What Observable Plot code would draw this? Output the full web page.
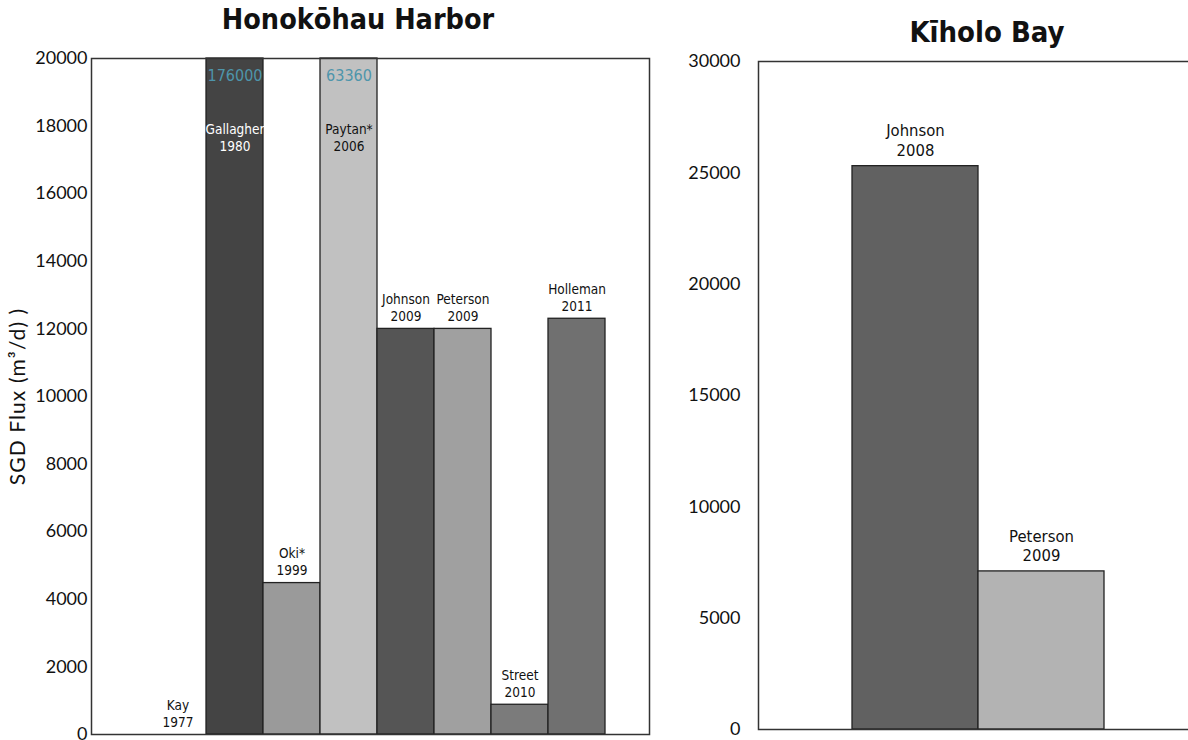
<!DOCTYPE html>
<html>
<head>
<meta charset="utf-8">
<script src="https://cdn.jsdelivr.net/npm/d3@7"></script>
<script src="https://cdn.jsdelivr.net/npm/@observablehq/plot@0.6"></script>
<style>
html, body { margin: 0; padding: 0; background: #fff; overflow: hidden; }
#wrap { position: relative; width: 1188px; height: 740px; overflow: hidden; background: #fff; }
.title { position: absolute; width: 400px; text-align: center; white-space: nowrap;
  font-family: "DejaVu Sans Condensed", "DejaVu Sans", sans-serif; font-weight: bold;
  line-height: 28px; color: #111; z-index: 2; }
.panel { position: absolute; top: 0; }
.panel svg { max-width: none !important; }
.panel svg text[transform*="rotate"] { letter-spacing: 1.1px; }
</style>
</head>
<body>
<div id="wrap">
  <div class="title" style="left:158px; top:6px; font-size:28.5px;">Honokōhau Harbor</div>
  <div class="title" style="left:787px; top:18px; font-size:29px;">Kīholo Bay</div>
  <div class="panel" id="left" style="left:0px; width:660px;"></div>
  <div class="panel" id="right" style="left:650px; width:550px;"></div>
</div>
<script>
// ---- Honokōhau Harbor ----
const harborNames = ["Kay", "Gallagher", "Oki*", "Paytan*", "Johnson", "Peterson", "Street", "Holleman"];
const harborYears = ["1977", "1980", "1999", "2006", "2009", "2009", "2010", "2011"];
const harborFlux  = [0, 176000, 4480, 63360, 12000, 12000, 880, 12300];
const harborTicks = [0, 2000, 4000, 6000, 8000, 10000, 12000, 14000, 16000, 18000, 20000];
const harborMax   = 20000;
const harborColors = ["#ffffff", "#444444", "#9a9a9a", "#c1c1c1", "#555555", "#a0a0a0", "#7b7b7b", "#707070"];

// ---- Kīholo Bay ----
const bayNames = ["Johnson", "Peterson"];
const bayYears = ["2008", "2009"];
const bayFlux  = [25300, 7100];
const bayTicks = [0, 5000, 10000, 15000, 20000, 25000, 30000];
const bayMax   = 30000;
const bayColors = ["#616161", "#b3b3b3"];

const yLabel = "SGD Flux (m³/d) )";

function makeChart(names, years, flux, colors, ticks, max, o) {
  const data = names.map((name, i) => ({name, year: years[i], flux: flux[i], color: colors[i]}));
  const within = data.filter(d => d.flux <= max);
  const over = data.filter(d => d.flux > max);
  const dark = d => d3.hsl(d.color).l < 0.3;
  const labelFont = {fontFamily: "DejaVu Sans Condensed, DejaVu Sans, sans-serif"};
  const marks = [
    Plot.barY(data, {x: "name", y: "flux", fill: "name", stroke: "#222", strokeWidth: 1.3}),
    Plot.frame({stroke: "#333", strokeWidth: 1.5}),
    Plot.axisY(ticks, {tickSize: 0, tickPadding: o.tickPadding, fontSize: 18, tickFormat: d => String(d), label: null}),
    Plot.text(within, {x: "name", y: "flux", text: d => `${d.name}\n${d.year}`,
      lineAnchor: "bottom", dy: o.labelDy, fontSize: o.labelSize, lineHeight: o.lineHeight,
      fill: "#111", ...labelFont}),
    Plot.text(over, {x: "name", frameAnchor: "top", text: d => String(d.flux),
      lineAnchor: "top", dy: 11, fontSize: 16, fill: "#4e95ab", ...labelFont}),
    Plot.text(over.filter(dark), {x: "name", frameAnchor: "top", text: d => `${d.name}\n${d.year}`,
      lineAnchor: "top", dy: 64, fontSize: o.labelSize, lineHeight: o.lineHeight, fill: "#fff", ...labelFont}),
    Plot.text(over.filter(d => !dark(d)), {x: "name", frameAnchor: "top", text: d => `${d.name}\n${d.year}`,
      lineAnchor: "top", dy: 64, fontSize: o.labelSize, lineHeight: o.lineHeight, fill: "#111", ...labelFont})
  ];
  if (o.label) {
    marks.push(Plot.text([o.label], {frameAnchor: "left", rotate: -90, dx: -73, fontSize: 21,
      textAnchor: "middle", fill: "#111", fontFamily: "Lato, sans-serif"}));
  }
  return Plot.plot({
    width: o.width, height: 740,
    marginLeft: o.marginLeft, marginRight: o.marginRight,
    marginTop: o.marginTop, marginBottom: o.marginBottom,
    style: {fontFamily: "Lato, sans-serif", fontSize: "18px", color: "#111", background: "transparent", overflow: "visible"},
    x: {domain: names, paddingInner: 0, paddingOuter: o.paddingOuter, align: o.align, axis: null},
    y: {domain: [0, max], clamp: true, axis: null},
    color: {domain: names, range: colors},
    marks
  });
}

document.getElementById("left").append(makeChart(harborNames, harborYears, harborFlux, harborColors, harborTicks, harborMax, {
  width: 660, marginLeft: 91, marginRight: 11, marginTop: 58, marginBottom: 6,
  paddingOuter: 0.873, align: 0.57, tickPadding: 4,
  label: yLabel, labelDy: -8, labelSize: 13.5, lineHeight: 1.25
}));

document.getElementById("right").append(makeChart(bayNames, bayYears, bayFlux, bayColors, bayTicks, bayMax, {
  width: 550, marginLeft: 108, marginRight: 2, marginTop: 61, marginBottom: 11,
  paddingOuter: 0.746, align: 0.5, tickPadding: 18,
  label: null, labelDy: -10, labelSize: 16.5, lineHeight: 1.2
}));
</script>
</body>
</html>
